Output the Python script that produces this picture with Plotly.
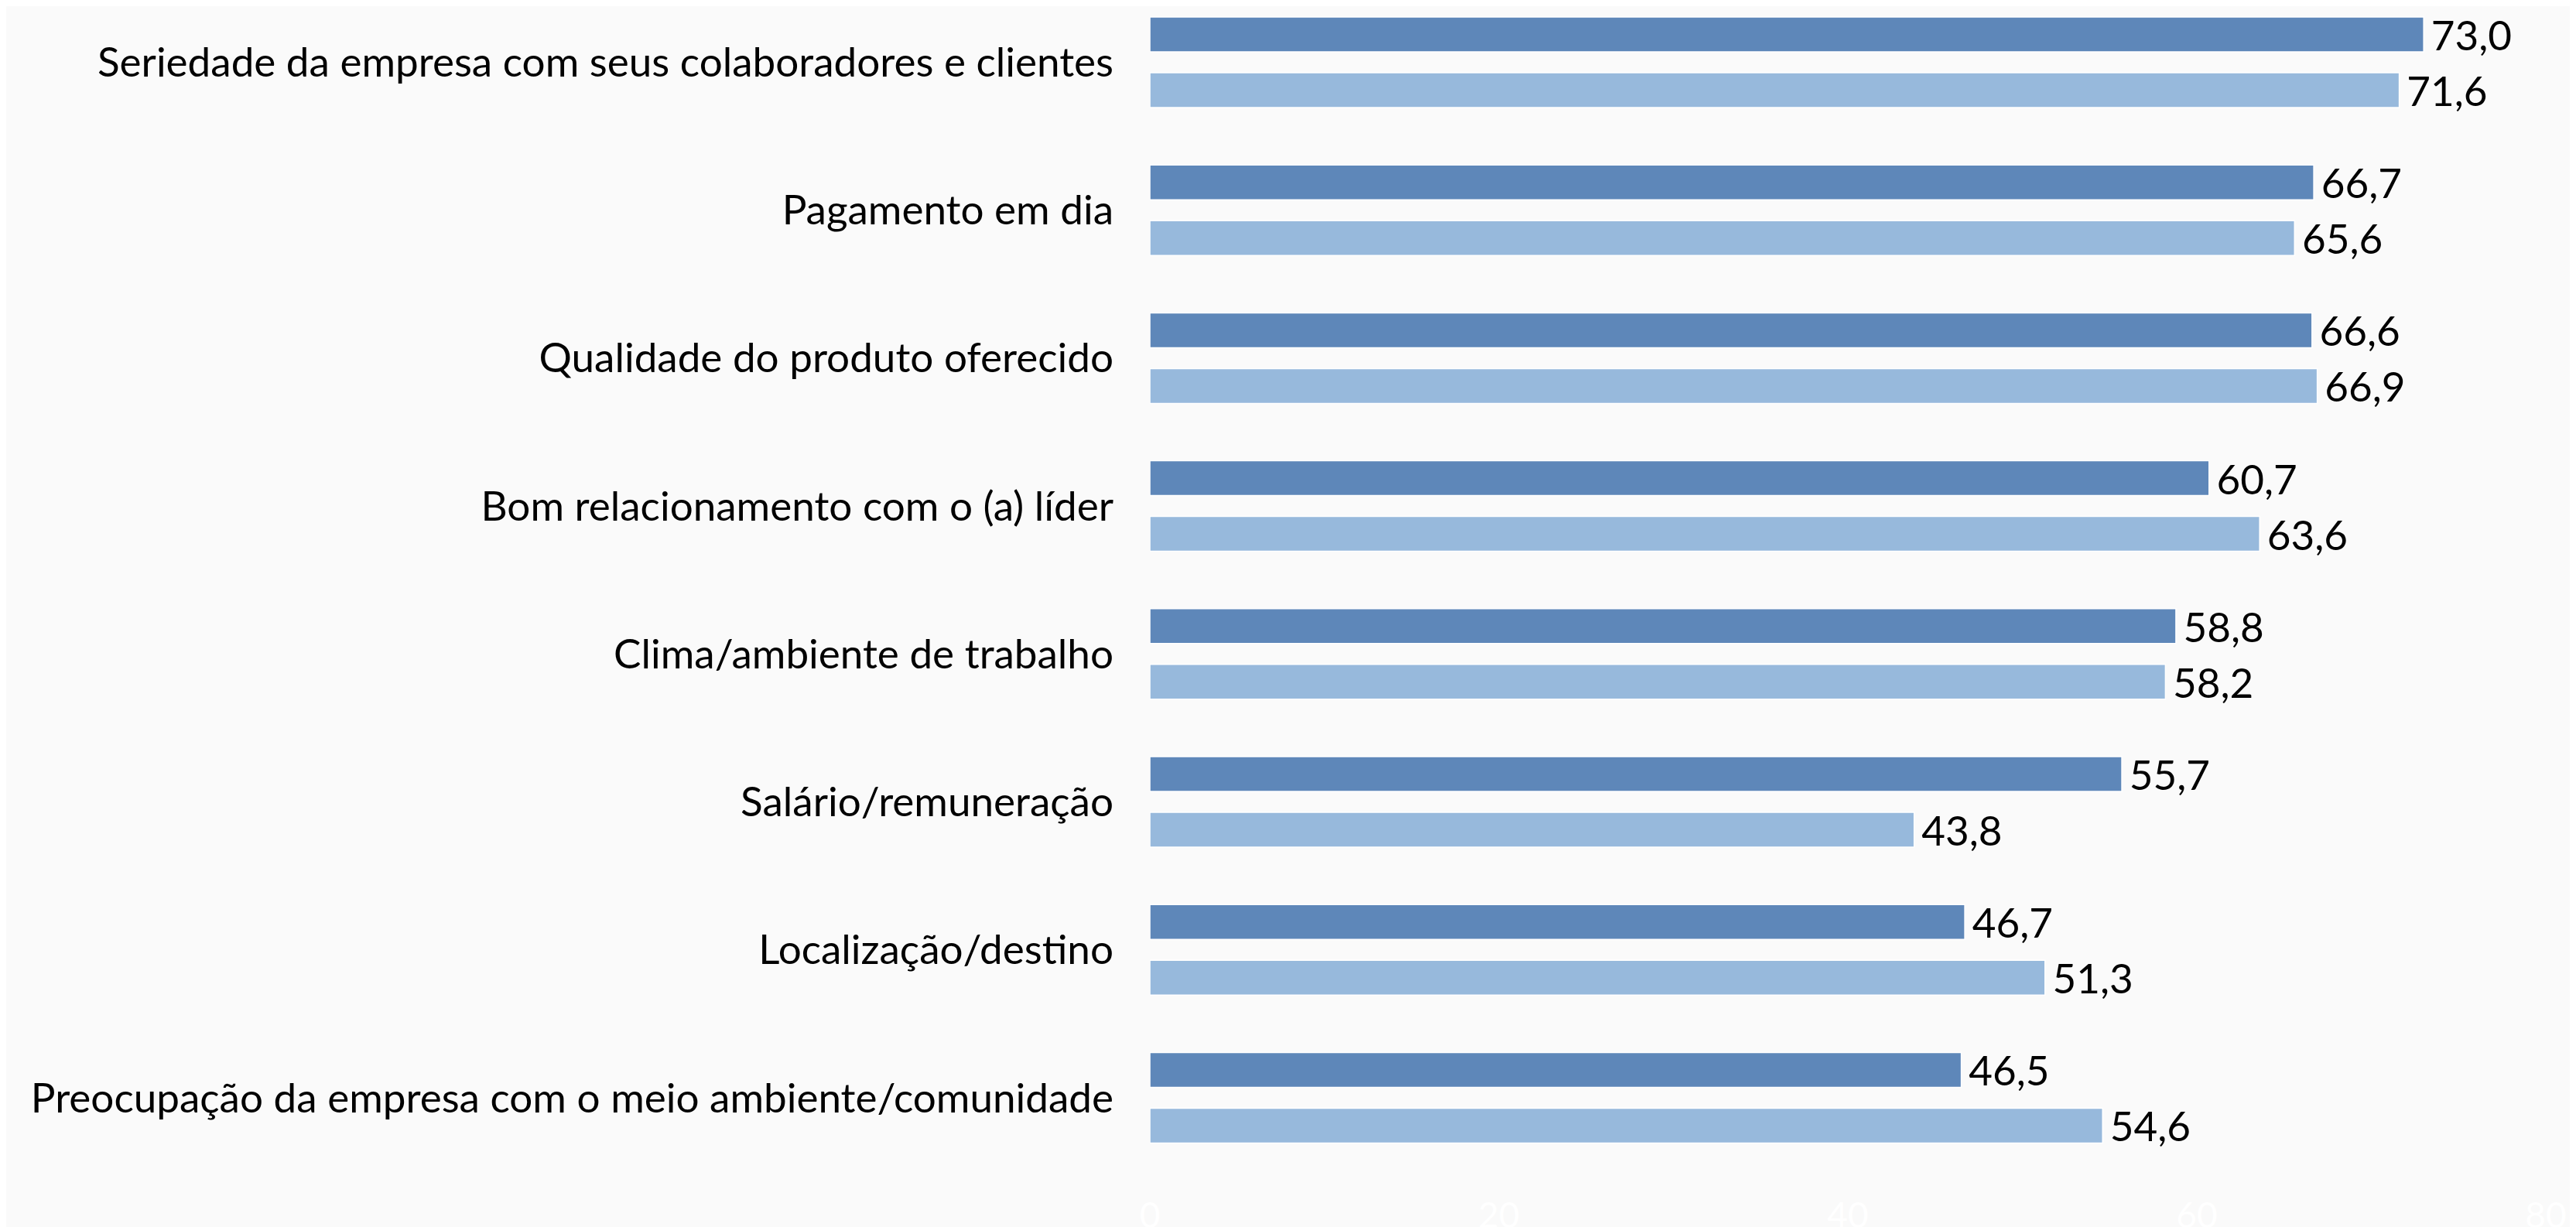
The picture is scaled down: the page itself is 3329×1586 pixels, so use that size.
import plotly.graph_objects as go

categories = [
    "Seriedade da empresa com seus colaboradores e clientes",
    "Pagamento em dia",
    "Qualidade do produto oferecido",
    "Bom relacionamento com o (a) líder",
    "Clima/ambiente de trabalho",
    "Salário/remuneração",
    "Localização/destino",
    "Preocupação da empresa com o meio ambiente/comunidade",
]
series_a = [73.0, 66.7, 66.6, 60.7, 58.8, 55.7, 46.7, 46.5]
series_b = [71.6, 65.6, 66.9, 63.6, 58.2, 43.8, 51.3, 54.6]
x_ticks = [0, 20, 40, 60, 80]

def fmt(v):
    return "\u2009" + f"{v:.1f}".replace(".", ",")

# page body has an 8px margin in the browser; compensate
W, H = 3321, 1578
FONT = "Lato"

fig = go.Figure()
for vals, col in ((series_a, "#5E87B9"), (series_b, "#97B9DC")):
    fig.add_trace(go.Bar(
        y=categories, x=vals, orientation="h",
        marker=dict(color=col, line=dict(color="#FFFFFF", width=1.5)),
        text=[fmt(v) for v in vals], textposition="outside",
        constraintext="none",
        textfont=dict(family=FONT, size=53, color="#000000"),
        cliponaxis=False, showlegend=False,
    ))

fig.update_layout(
    width=W, height=H,
    margin=dict(l=1478, r=39, t=0, b=46),
    paper_bgcolor="#FAFAFA", plot_bgcolor="#FAFAFA",
    barmode="group", bargap=0.247, bargroupgap=0.375,
    font=dict(family=FONT, color="#000000"),
)
fig.update_xaxes(
    range=[0, 80], tickvals=x_ticks, ticktext=[str(t) for t in x_ticks],
    showgrid=False, zeroline=False, showline=False, automargin=False,
    tickfont=dict(family=FONT, size=46, color="#FFFFFF"),
)
fig.update_yaxes(
    type="category", categoryorder="array", categoryarray=categories,
    range=[7.633, -0.379], autorange=False, automargin=False,
    showgrid=False, zeroline=False, showline=False,
    tickfont=dict(family=FONT, size=53, color="#000000"),
    ticklabelstandoff=46,
)
fig.write_html("out.html")
